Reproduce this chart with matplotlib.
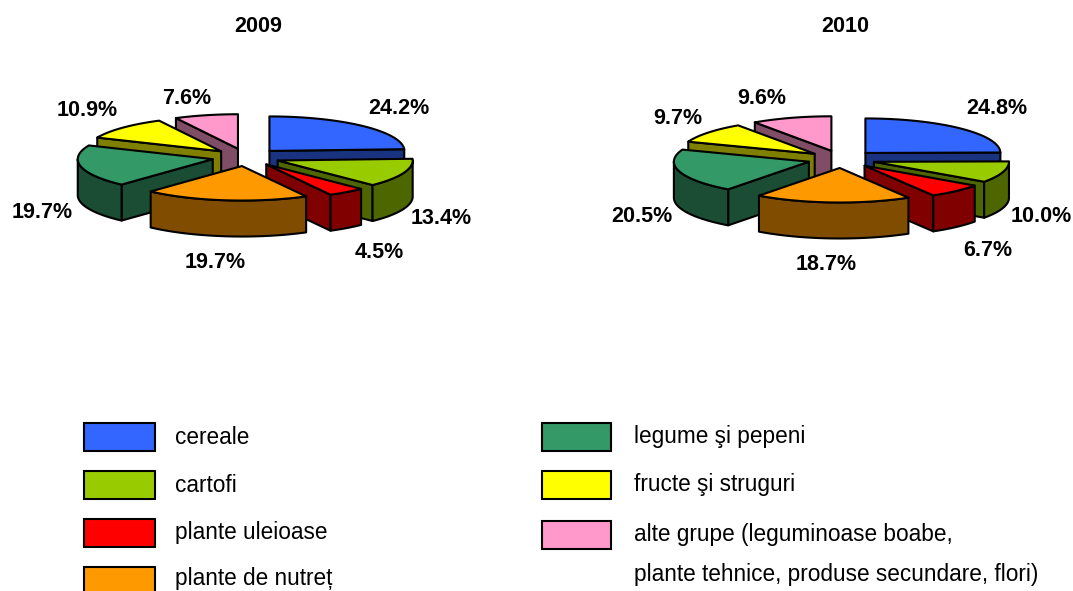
# two exploded 3D pies with a shared legend
import numpy as np
import matplotlib.pyplot as plt
from matplotlib.colors import to_rgb
from matplotlib.patches import Polygon, Rectangle

plt.rcParams['font.family'] = ['Liberation Sans', 'DejaVu Sans']

categories = ["cereale", "cartofi", "plante uleioase", "plante de nutreț",
              "legume şi pepeni", "fructe şi struguri",
              "alte grupe (leguminoase boabe,", "plante tehnice, produse secundare, flori)"]
colors = ["#3366FF", "#99CC00", "#FF0000", "#FF9900", "#339966", "#FFFF00", "#FF99CC"]
values_2009 = [24.2, 13.4, 4.5, 19.7, 19.7, 10.9, 7.6]
values_2010 = [24.8, 10.0, 6.7, 18.7, 20.5, 9.7, 9.6]

# layout in pixels
RX, RY = 135, 34.5
EX, EY = 34, 8.8
DEPTH = 36
LW = 1.5
DRAW_ORDER = [0, 6, 5, 4, 1, 2, 3]
label_pos_2009 = [(399, 108), (441, 219), (379, 252), (215, 262), (42, 212), (87, 110), (187, 98)]
label_pos_2010 = [(997, 108), (1041, 217), (988, 250), (826, 265), (642, 217), (678, 119), (762, 98)]

fig = plt.figure(figsize=(10.73, 5.91), dpi=100)
ax = fig.add_axes([0, 0, 1, 1])
ax.set_xlim(0, 1073)
ax.set_ylim(591, 0)
ax.axis('off')


def rim_points(x0, y0, a1, a2):
    t = np.radians(np.linspace(a1, a2, max(int(abs(a2 - a1)) + 2, 2)))
    return np.column_stack([x0 + RX * np.sin(t), y0 - RY * np.cos(t)])


def add_poly(pts, color):
    ax.add_patch(Polygon(pts, closed=True, facecolor=color, edgecolor='black',
                         linewidth=LW, joinstyle='round'))


def draw_pie(values, cx, cy):
    edges = np.concatenate([[0], np.cumsum(values)]) / sum(values) * 360
    for i in DRAW_ORDER:
        a1, a2 = edges[i], edges[i + 1]
        mid = np.radians((a1 + a2) / 2)
        x0 = cx + EX * np.sin(mid)
        y0 = cy - EY * np.cos(mid)
        dark = tuple(c * 0.5 for c in to_rgb(colors[i]))
        down = np.array([0, DEPTH])
        apex = np.array([x0, y0])
        # cut faces that look towards the viewer
        if np.sin(np.radians(a1)) < 0:
            p = rim_points(x0, y0, a1, a1)[0]
            add_poly([apex, p, p + down, apex + down], dark)
        if np.sin(np.radians(a2)) > 0:
            p = rim_points(x0, y0, a2, a2)[0]
            add_poly([apex, p, p + down, apex + down], dark)
        # outer wall, front half only
        lo, hi = max(a1, 90), min(a2, 270)
        if hi > lo:
            arc = rim_points(x0, y0, lo, hi)
            add_poly(np.vstack([arc, arc[::-1] + down]), dark)
        add_poly(np.vstack([apex, rim_points(x0, y0, a1, a2)]), colors[i])


def draw_labels(values, positions):
    for v, (x, y) in zip(values, positions):
        ax.text(x, y, f"{v:.1f}%", fontsize=15.5, fontweight='bold', ha='center', va='center')


draw_pie(values_2009, 246, 157.3)
draw_pie(values_2010, 841.5, 159.2)
draw_labels(values_2009, label_pos_2009)
draw_labels(values_2010, label_pos_2010)
ax.text(258, 26, "2009", fontsize=15.5, fontweight='bold', ha='center', va='center')
ax.text(845, 26, "2010", fontsize=15.5, fontweight='bold', ha='center', va='center')

# legend
legend_boxes = [(84, 423), (84, 471), (84, 519), (84, 567), (542, 423), (542, 471), (542, 521)]
legend_text_y = [437, 485, 532, 579, 436, 484, 535, 575]
for i, (x, y) in enumerate(legend_boxes):
    w = 71 if i < 4 else 69
    ax.add_patch(Rectangle((x, y), w, 28, facecolor=colors[i], edgecolor='black',
                           linewidth=LW))
    tx = 175 if i < 4 else 634
    ax.text(tx, legend_text_y[i], categories[i], fontsize=16.3, va='center')
ax.text(634, legend_text_y[7], categories[7], fontsize=16.3, va='center')

fig.savefig("out.png", dpi=100)
